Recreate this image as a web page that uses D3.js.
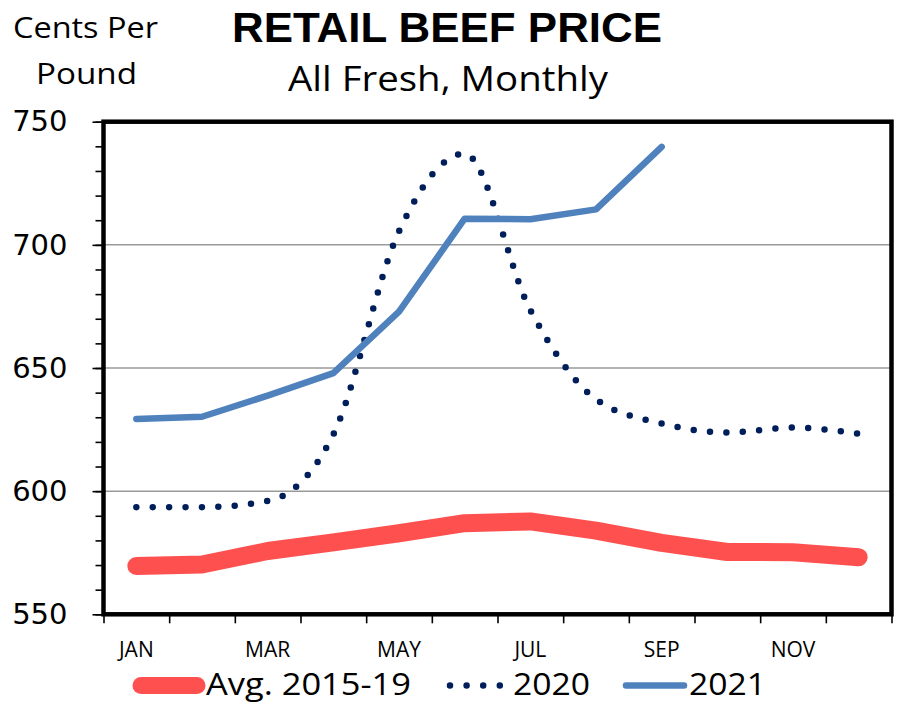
<!DOCTYPE html>
<html>
<head>
<meta charset="utf-8">
<script src="https://cdn.jsdelivr.net/npm/d3@7"></script>
<style>
  html, body { margin: 0; padding: 0; background: #fff; }
  svg { display: block; }
</style>
</head>
<body>
<svg id="chart" width="899" height="704"></svg>
<script>
// ---- data ----
const months = ["JAN","FEB","MAR","APR","MAY","JUN","JUL","AUG","SEP","OCT","NOV","DEC"];
const avg2015_19 = [569.6, 570.2, 575.7, 579.2, 582.9, 587.0, 587.7, 584.0, 579.0, 575.3, 575.2, 573.2];
const y2020 = [593.5, 593.5, 596.0, 623.0, 705.5, 737.0, 673.5, 637.3, 627.5, 623.8, 625.8, 623.3];
const y2021 = [629.3, 630.2, 638.8, 647.9, 672.9, 710.6, 710.4, 714.4, 739.8];
const yTicks = [550, 600, 650, 700, 750];
const yMinorTicks = d3.range(550, 751, 10);
const legendLabels = ["Avg. 2015-19", "2020", "2021"];

// ---- layout ----
const svg = d3.select("#chart");
const L = 103.5, R = 891.5, T = 121.7, B = 614.3;
const x = d3.scaleBand().domain(months).range([L, R]);
const xEdge = d3.scaleLinear().domain([0, 12]).range([L, R]);
const y = d3.scaleLinear().domain([550, 750]).range([B, T]);
const cx = m => x(m) + x.bandwidth() / 2;

const RED = "#FF5050", BLUE = "#4F81BD", NAVY = "#001E5A";

// gridlines
svg.append("g").selectAll("line").data(yTicks.filter(v => v > 550 && v < 750)).join("line")
  .attr("x1", L).attr("x2", R).attr("y1", d => y(d)).attr("y2", d => y(d))
  .attr("stroke", "#9a9a9a").attr("stroke-width", 1.5);

// y axis minor ticks
const yMinor = svg.append("g").attr("transform", `translate(${L},0)`)
  .call(d3.axisLeft(y).tickValues(yMinorTicks).tickSize(8).tickFormat(""));
yMinor.select(".domain").remove();
yMinor.selectAll("line").attr("stroke", "#000").attr("stroke-width", 1.6);

// y axis major ticks + labels
const yMajor = svg.append("g").attr("transform", `translate(${L},0)`)
  .call(d3.axisLeft(y).tickValues(yTicks).tickSize(11).tickPadding(25));
yMajor.select(".domain").remove();
yMajor.selectAll("line").attr("stroke", "#000").attr("stroke-width", 1.6);
yMajor.selectAll("text").attr("font-family", "DejaVu Sans").attr("font-size", 29).attr("fill", "#000");

// x axis ticks at band edges
const xTicksG = svg.append("g").attr("transform", `translate(0,${B})`)
  .call(d3.axisBottom(xEdge).tickValues(d3.range(0, 13)).tickSize(9).tickFormat(""));
xTicksG.select(".domain").remove();
xTicksG.selectAll("line").attr("stroke", "#000").attr("stroke-width", 1.6);

// x labels
const xLab = svg.append("g").attr("transform", `translate(0,${B})`)
  .call(d3.axisBottom(x).tickSize(0).tickPadding(28).tickFormat((d, i) => i % 2 === 0 ? d : ""));
xLab.select(".domain").remove();
xLab.selectAll("text").attr("font-family", "Open Sans").attr("font-size", 21).attr("fill", "#000");

// series
const line = d3.line().x((d, i) => cx(months[i])).y(d => y(d));
const smooth = d3.line().x((d, i) => cx(months[i])).y(d => y(d)).curve(d3.curveMonotoneX);

svg.append("path").attr("d", line(avg2015_19)).attr("fill", "none")
  .attr("stroke", RED).attr("stroke-width", 18).attr("stroke-linecap", "round").attr("stroke-linejoin", "round");
svg.append("path").attr("d", smooth(y2020)).attr("fill", "none")
  .attr("stroke", NAVY).attr("stroke-width", 6.5).attr("stroke-linecap", "round")
  .attr("stroke-dasharray", "0 16.4");
svg.append("path").attr("d", line(y2021)).attr("fill", "none")
  .attr("stroke", BLUE).attr("stroke-width", 6.5).attr("stroke-linecap", "round").attr("stroke-linejoin", "round");

// frame
svg.append("rect").attr("x", L).attr("y", T).attr("width", R - L).attr("height", B - T)
  .attr("fill", "none").attr("stroke", "#000").attr("stroke-width", 4.5);

// titles
svg.append("text").attr("x", 447).attr("y", 42).attr("text-anchor", "middle")
  .attr("font-family", "Liberation Sans, Arial").attr("font-weight", "bold").attr("font-size", 42)
  .attr("textLength", 430).attr("lengthAdjust", "spacingAndGlyphs").text("RETAIL BEEF PRICE");
svg.append("text").attr("x", 448).attr("y", 91).attr("text-anchor", "middle")
  .attr("font-family", "Open Sans").attr("font-size", 34)
  .attr("textLength", 320).attr("lengthAdjust", "spacingAndGlyphs").text("All Fresh, Monthly");
svg.append("text").attr("x", 13).attr("y", 38)
  .attr("font-family", "Open Sans").attr("font-size", 29)
  .attr("textLength", 145).attr("lengthAdjust", "spacingAndGlyphs").text("Cents Per");
svg.append("text").attr("x", 36).attr("y", 84)
  .attr("font-family", "Open Sans").attr("font-size", 29)
  .attr("textLength", 101).attr("lengthAdjust", "spacingAndGlyphs").text("Pound");

// legend
const lg = svg.append("g");
const LY = 685.5;
lg.append("line").attr("x1", 141).attr("x2", 197).attr("y1", LY).attr("y2", LY)
  .attr("stroke", RED).attr("stroke-width", 17).attr("stroke-linecap", "round");
lg.append("line").attr("x1", 450).attr("x2", 500).attr("y1", LY).attr("y2", LY)
  .attr("stroke", NAVY).attr("stroke-width", 6.5).attr("stroke-linecap", "round").attr("stroke-dasharray", "0 16.6");
lg.append("line").attr("x1", 626).attr("x2", 684).attr("y1", LY).attr("y2", LY)
  .attr("stroke", BLUE).attr("stroke-width", 6.5).attr("stroke-linecap", "round");
const legText = [[206, 205], [513, 77], [689, 77]];
lg.selectAll("text").data(legendLabels).join("text")
  .attr("x", (d, i) => legText[i][0]).attr("y", 695)
  .attr("font-family", "Open Sans").attr("font-size", 31).attr("fill", "#000")
  .attr("textLength", (d, i) => legText[i][1]).attr("lengthAdjust", "spacingAndGlyphs")
  .text(d => d);
</script>
</body>
</html>
